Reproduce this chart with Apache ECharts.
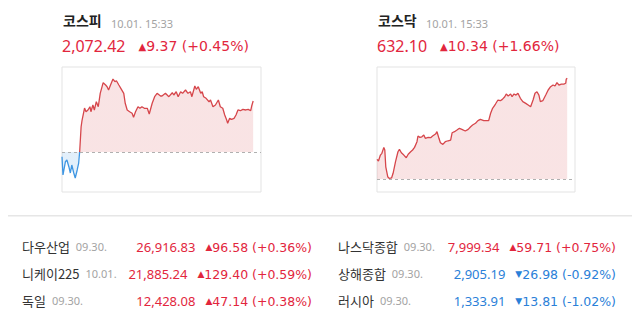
<!DOCTYPE html>
<html><head><meta charset="utf-8">
<script src="https://cdn.jsdelivr.net/npm/echarts/dist/echarts.min.js"></script>
<style>html,body{margin:0;padding:0;background:#fff}#c{width:640px;height:323px}</style>
</head><body><div id="c"></div>
<script>
// ---- data ----
const indexNames = ['코스피', '코스닥'];
const indexStamp = '10.01. 15:33';
const indexCloses = [2072.42, 632.10];
const indexChanges = [9.37, 10.34];
const indexPcts = [0.45, 1.66];

// minutes after 09:00
const kospiTimes = [0,2,7,10,14,17,20,24,27,31,34,36,39,41,46,49,53,57,59,63,66,70,74,78,84,89,92,95,99,104,108,111,116,120,126,129,133,138,143,146,150,155,159,163,168,174,178,184,189,194,201,204,211,218,225,228,233,237,242,246,252,257,262,265,271,274,278,283,286,289,294,300,303,308,313,319,323,328,332,336,338,342,346,351,355,359,364,369,375,380,385,387,390];
const kospiPrices = [2062.19,2058.83,2061.27,2061.58,2060.35,2059.20,2060.66,2059.20,2058.28,2059.75,2061.03,2063.05,2067.69,2068.92,2071.12,2070.44,2070.76,2071.36,2070.44,2071.67,2070.76,2072.28,2071.36,2073.82,2075.77,2075.34,2075.03,2074.43,2075.34,2076.44,2075.95,2076.13,2075.34,2074.74,2073.82,2071.99,2070.76,2070.44,2070.15,2069.42,2070.44,2071.36,2071.07,2071.36,2071.07,2071.07,2070.02,2071.99,2073.20,2073.82,2073.33,2073.33,2073.82,2073.20,2073.93,2073.51,2074.11,2073.20,2074.11,2073.82,2074.43,2073.82,2074.11,2073.20,2075.16,2074.55,2075.03,2073.82,2074.11,2073.20,2072.90,2072.28,2072.59,2071.36,2071.67,2072.59,2071.36,2071.07,2069.84,2068.92,2068.32,2069.23,2069.05,2069.23,2069.84,2070.76,2070.63,2070.88,2070.76,2070.88,2070.63,2071.49,2072.42];

const kosdaqTimes = [0,3,7,10,14,16,18,22,25,30,33,38,43,46,50,55,60,64,69,73,77,82,84,88,92,96,99,105,110,114,120,123,127,130,135,140,146,151,154,159,164,169,174,181,187,192,196,202,207,212,219,226,229,233,237,243,248,253,257,262,265,269,274,277,281,285,289,294,299,305,310,315,320,324,328,332,335,340,346,351,356,361,365,369,373,378,383,387,388,390];
const kosdaqPrices = [623.78,623.61,624.22,624.40,625.01,624.74,623.02,622.00,621.83,621.89,622.35,623.54,624.56,624.81,624.46,624.22,623.95,624.30,624.56,624.74,625.01,625.59,626.17,626.04,626.10,626.28,625.94,626.04,626.00,626.17,626.38,626.62,625.94,625.49,625.32,625.59,625.69,625.76,626.51,626.62,626.79,626.97,626.86,626.69,626.86,627.13,627.30,627.48,627.75,627.89,627.75,627.75,627.75,628.51,629.02,629.46,629.87,629.80,629.94,630.21,630.49,630.28,630.49,630.21,630.49,630.38,630.56,630.05,629.70,629.53,629.36,629.18,629.87,630.56,630.72,630.38,629.70,629.80,630.38,630.90,631.24,631.41,631.31,631.65,631.41,631.51,631.51,631.59,632.00,632.10];

const worldNames = ['다우산업', '니케이225', '독일', '나스닥종합', '상해종합', '러시아'];
const worldDates = ['09.30.', '10.01.', '09.30.', '09.30.', '09.30.', '09.30.'];
const worldValues = [26916.83, 21885.24, 12428.08, 7999.34, 2905.19, 1333.91];
const worldChanges = [96.58, 129.40, 47.14, 59.71, -26.98, -13.81];
const worldPcts = [0.36, 0.59, 0.38, 0.75, -0.92, -1.02];

// ---- styles ----
const UP = '#e2263d', DOWN = '#2a80d8';
const LINE_UP = '#d6464b', LINE_DOWN = '#3f96e2';
const KR = "'Noto Sans CJK KR', 'Noto Sans', sans-serif";
const NUM = "'Noto Sans', sans-serif";
const CHG = "'DejaVu Sans', sans-serif";

function fmt(v) { return Math.abs(v).toFixed(2).replace(/\B(?=(\d{3})+(?!\d))/g, ','); }
function chgText(c, p) { return fmt(c) + ' (' + (c >= 0 ? '+' : '-') + Math.abs(p).toFixed(2) + '%)'; }

const chart = echarts.init(document.getElementById('c'), null, { renderer: 'svg' });

const prevs = indexCloses.map((c, i) => +(c - indexChanges[i]).toFixed(2));
const seriesData = [
  kospiTimes.map((t, k) => [t, kospiPrices[k]]),
  kosdaqTimes.map((t, k) => [t, kosdaqPrices[k]])
];
const yRanges = [[2055.71, 2078.65], [620.43, 633.26]];
const gridLefts = [62, 377];
const gridWidths = [199, 198];

const graphics = [];
// headers
indexNames.forEach((n, i) => {
  const ox = gridLefts[i] + 1;
  const up = indexChanges[i] >= 0;
  const c = up ? UP : DOWN;
  graphics.push({ type: 'text', x: ox, y: 20, style: { text: n, font: 'bold 14px ' + KR, fill: '#222', textVerticalAlign: 'middle', verticalAlign: 'middle' } });
  graphics.push({ type: 'text', x: ox + 48, y: 23, style: { text: indexStamp, font: '11px ' + NUM, fill: '#a3a3a3', textVerticalAlign: 'middle', verticalAlign: 'middle' } });
  graphics.push({ type: 'text', x: ox - 1, y: 46, style: {
    text: '{p|' + fmt(indexCloses[i]) + '}{t|' + (up ? '▲' : '▼') + '}{c|' + chgText(indexChanges[i], indexPcts[i]) + '}',
    textVerticalAlign: 'middle', verticalAlign: 'middle',
    rich: {
      p: { font: '16px ' + NUM, fontSize: 16, fontFamily: NUM, fill: c, padding: [0, 13, 0, 0] },
      t: { font: '10px ' + CHG, fontSize: 10, fontFamily: CHG, fill: c },
      c: { font: '14px ' + CHG, fontSize: 14, fontFamily: CHG, fill: c }
    }
  } });
});
// divider
graphics.push({ type: 'rect', shape: { x: 8, y: 215, width: 624, height: 1.5 }, style: { fill: '#e6e6e6' } });
// world table
const rowYs = [246, 273, 300];
worldNames.forEach((n, i) => {
  const col = Math.floor(i / 3), row = i % 3;
  const lx = col ? 338 : 22, rx = col ? 616 : 312;
  const y = rowYs[row];
  const up = worldChanges[i] >= 0;
  const c = up ? UP : DOWN;
  graphics.push({ type: 'text', x: lx, y: y, style: {
    text: '{n|' + n + '}{d|' + worldDates[i] + '}', textVerticalAlign: 'middle', verticalAlign: 'middle',
    rich: {
      n: { font: '13px ' + KR, fontSize: 13, fontFamily: KR, fill: '#333', padding: [0, 6, 0, 0] },
      d: { font: '11px ' + NUM, fontSize: 11, fontFamily: NUM, fill: '#a3a3a3' }
    }
  } });
  graphics.push({ type: 'text', x: rx, y: y + 1, style: {
    text: '{v|' + fmt(worldValues[i]) + '}{t|' + (up ? '▲' : '▼') + '}{c|' + chgText(worldChanges[i], worldPcts[i]) + '}',
    textAlign: 'right', align: 'right', textVerticalAlign: 'middle', verticalAlign: 'middle',
    rich: {
      v: { font: '13px ' + NUM, fontSize: 13, fontFamily: NUM, fill: c, padding: [0, 10, 0, 0] },
      t: { font: '9px ' + CHG, fontSize: 9, fontFamily: CHG, fill: c },
      c: { font: '12.5px ' + CHG, fontSize: 12.5, fontFamily: CHG, fill: c }
    }
  } });
});

const option = {
  animation: false,
  backgroundColor: '#fff',
  grid: [0, 1].map(i => ({ left: gridLefts[i], top: 67, width: gridWidths[i], height: 125, show: true, borderColor: '#e3e3e3', borderWidth: 1, backgroundColor: 'transparent' })),
  xAxis: [0, 1].map(i => ({ type: 'value', gridIndex: i, min: 0, max: 406, show: false })),
  yAxis: [0, 1].map(i => ({ type: 'value', gridIndex: i, min: yRanges[i][0], max: yRanges[i][1], show: false })),
  visualMap: [0, 1].map(i => ({ type: 'piecewise', show: false, seriesIndex: i, dimension: 1,
    pieces: [
      { gte: yRanges[i][0] - 50, lt: prevs[i], color: LINE_DOWN },
      { gte: prevs[i], lte: yRanges[i][1] + 50, color: LINE_UP }
    ] })),
  series: [0, 1].map(i => ({
    type: 'line', xAxisIndex: i, yAxisIndex: i, data: seriesData[i],
    symbol: 'none', showSymbol: false, silent: true,
    lineStyle: { width: 1.3 },
    areaStyle: { opacity: 0.15, origin: prevs[i] },
    markLine: { silent: true, symbol: 'none', label: { show: false },
      lineStyle: { color: '#b0b0b0', type: [3, 3], width: 1 },
      data: [{ yAxis: prevs[i] }] }
  })),
  graphic: graphics
};
chart.setOption(option);
</script></body></html>
